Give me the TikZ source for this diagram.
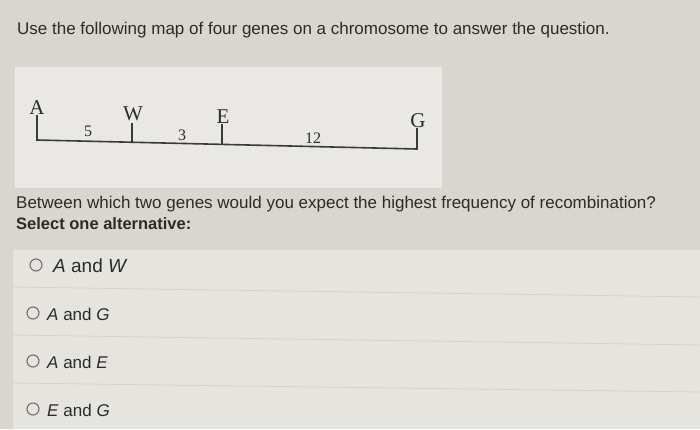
\documentclass[tikz,border=0pt]{standalone}
\usepackage{fontspec}
\setmainfont{Liberation Sans}
\newfontfamily\genefont{Liberation Serif}
\definecolor{bgcol}{HTML}{D9D6D0}
\definecolor{mapcol}{HTML}{EAE8E4}
\definecolor{optcol}{HTML}{E6E4DE}
\definecolor{sepcol}{HTML}{D6D3CC}
\definecolor{txtcol}{HTML}{2B2B2B}
\definecolor{linecol}{HTML}{3A3A3A}
\definecolor{radcol}{HTML}{707070}
\tikzset{
  txt/.style={text=txtcol, inner sep=0pt, anchor=west},
  gene/.style={text=txtcol, inner sep=0pt, anchor=base, font=\genefont\fontsize{21}{21}\selectfont},
  dist/.style={text=txtcol, inner sep=0pt, anchor=base, font=\genefont\fontsize{16}{16}\selectfont},
  chrom/.style={draw=linecol, line width=1.6pt},
  radio/.style={circle, draw=radcol, line width=1.1pt, minimum size=12pt, inner sep=0pt},
  opt/.style={text=txtcol, inner sep=0pt, anchor=west, font=\fontsize{17}{17}\selectfont},
}
\begin{document}
\begin{tikzpicture}[x=1pt,y=-1pt]
\useasboundingbox (0,0) rectangle (700,429);
\fill[bgcol] (0,0) rectangle (700,429);
% panels
\fill[mapcol] (15,67) rectangle (442,188);
\fill[optcol] (13,250) rectangle (700,429);
\draw[sepcol, line width=0.8pt] (13,287) -- (700,297);
\draw[sepcol, line width=0.8pt] (13,335) -- (700,345);
\draw[sepcol, line width=0.8pt] (13,383) -- (700,392);
% title
\node[txt, font=\fontsize{17}{17}\selectfont] (title) at (17,30) {Use the following map of four genes on a chromosome to answer the question.};
% chromosome map
\coordinate (a0) at (37,140);
\coordinate (a1) at (37,115);
\coordinate (w0) at (132,142);
\coordinate (w1) at (132,123);
\coordinate (e0) at (222,144);
\coordinate (e1) at (222,124);
\coordinate (g0) at (417,149);
\coordinate (g1) at (417,128);
\draw[chrom] (a1) -- (a0) -- (g0) -- (g1);
\draw[chrom] (w0) -- (w1);
\draw[chrom] (e0) -- (e1);
\node[gene] (A) at (37,114) {A};
\node[gene] (W) at (133,120) {W};
\node[gene] (E) at (223,123) {E};
\node[gene] (G) at (418,127) {G};
\node[dist] (d5) at (88,136) {5};
\node[dist] (d3) at (182,140) {3};
\node[dist] (d12) at (313,143) {12};
% question
\node[txt, font=\fontsize{17}{17}\selectfont] (q) at (16,204) {Between which two genes would you expect the highest frequency of recombination?};
\node[txt, font=\bfseries\fontsize{16.5}{16.5}\selectfont] (sel) at (16,224) {Select one alternative:};
% options
\node[radio] (r1) at (36,265) {};
\node[opt, font=\fontsize{19}{19}\selectfont] (o1) at (53,266) {\textit{A} and \textit{W}};
\node[radio] (r2) at (33,313) {};
\node[opt] (o2) at (47,314) {\textit{A} and \textit{G}};
\node[radio] (r3) at (33,361) {};
\node[opt] (o3) at (47,362) {\textit{A} and \textit{E}};
\node[radio] (r4) at (33,409) {};
\node[opt] (o4) at (47,410) {\textit{E} and \textit{G}};
\end{tikzpicture}
\end{document}
